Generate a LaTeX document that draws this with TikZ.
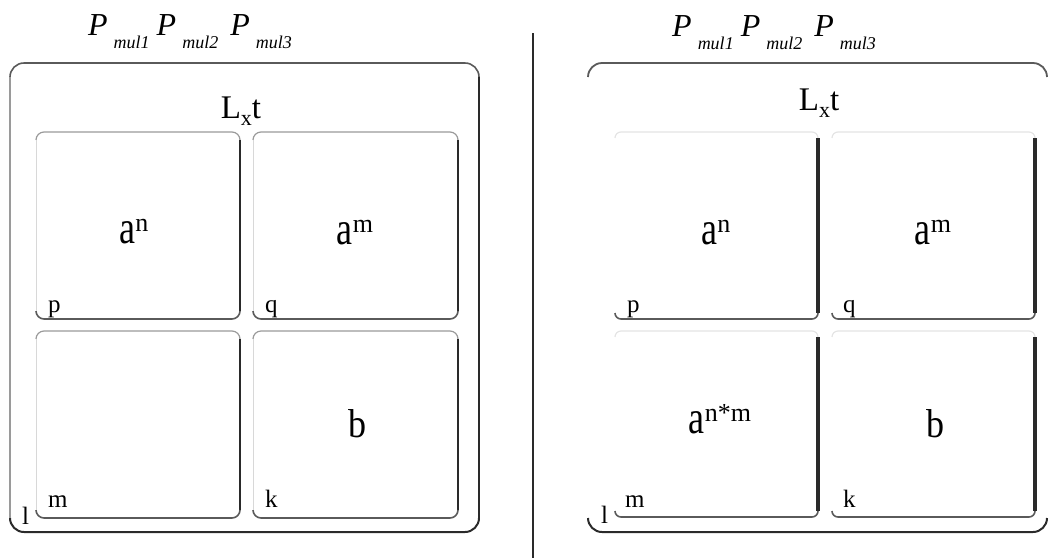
\documentclass[tikz,border=0pt]{standalone}
\usepackage{graphicx}
\usepackage{fontspec}
\setmainfont{Liberation Serif}
\definecolor{dk}{HTML}{2A2A2A}
\definecolor{md}{HTML}{5A5A5A}
\definecolor{lg}{HTML}{9A9A9A}
\definecolor{vlg}{HTML}{D8D8D8}
\definecolor{xlg}{HTML}{E4E4E4}
\newcommand{\myframe}[6]{%
  \draw[#6top,rounded corners=#5pt] (#1,#2+#5) -- (#1,#2) -- (#3,#2) -- (#3,#2+#5);
  \draw[#6right] (#3,#2+#5) -- (#3,#4-#5);
  \draw[#6bot,rounded corners=#5pt] (#3,#4-#5) -- (#3,#4) -- (#1,#4) -- (#1,#4-#5);
  \draw[#6left] (#1,#4-#5) -- (#1,#2+#5);
}
\newcommand{\pmul}[1]{\textit{P}\hspace{6pt}\raisebox{-13pt}{\fontsize{18}{18}\selectfont\textit{mul#1}}}
\newcommand{\lxt}{\fontsize{33}{33}\selectfont L\raisebox{-7pt}{\fontsize{22}{22}\selectfont x}t}
\newcommand{\apow}[1]{\fontsize{36}{36}\selectfont\scalebox{1}[1.3]{a}\raisebox{12pt}{\fontsize{26}{26}\selectfont #1}}
\newcommand{\bee}{\fontsize{36}{36}\selectfont\scalebox{1}[1.12]{b}}
\tikzset{
  lotop/.style={draw=md,line width=1.6pt},
  loright/.style={draw=dk,line width=2.4pt},
  lobot/.style={draw=dk,line width=2pt},
  loleft/.style={draw=lg,line width=1.4pt},
  litop/.style={draw=lg,line width=1.2pt},
  liright/.style={draw=dk,line width=2.6pt},
  libot/.style={draw=md,line width=1.6pt},
  lileft/.style={draw=vlg,line width=1pt},
  rotop/.style={draw=md,line width=1.8pt},
  roright/.style={draw=none},
  robot/.style={draw=dk,line width=2pt},
  roleft/.style={draw=none},
  ritop/.style={draw=xlg,line width=1.2pt},
  riright/.style={draw=dk,line width=3.4pt},
  ribot/.style={draw=md,line width=1.6pt},
  rileft/.style={draw=none},
  hdr/.style={anchor=base west,inner sep=0pt,font=\fontsize{32}{32}\selectfont},
  big/.style={anchor=base,inner sep=0pt},
  lbl/.style={anchor=base west,inner sep=0pt,font=\fontsize{25}{25}\selectfont},
}
\begin{document}
\begin{tikzpicture}[x=1pt,y=-1pt]
\useasboundingbox (0,0) rectangle (1050,558);
% left panel
\myframe{10}{63}{479}{532}{14}{lo}
\myframe{36}{132}{240}{319}{8}{li}
\myframe{253}{132}{458}{319}{8}{li}
\myframe{36}{331}{240}{518}{8}{li}
\myframe{253}{331}{458}{518}{8}{li}
% right panel
\myframe{588}{63}{1047}{532}{14}{ro}
\myframe{615}{132}{818}{319}{6}{ri}
\myframe{832}{132}{1035}{319}{6}{ri}
\myframe{615}{331}{818}{517}{6}{ri}
\myframe{832}{331}{1035}{517}{6}{ri}
% divider
\coordinate (dtop) at (533,33);
\coordinate (dbot) at (533,558);
\draw[draw=dk,line width=2pt] (dtop) -- (dbot);
% left texts
\node[hdr] (lh) at (88,35) {\pmul{1}\hspace{7pt}\pmul{2}\hspace{12pt}\pmul{3}};
\node[big] (llxt) at (241,118) {\lxt};
\node[big] (lan) at (134,243) {\apow{n}};
\node[big] (lam) at (355,244) {\apow{m}};
\node[big] (lb) at (357,437) {\bee};
\node[lbl] (lp) at (48,312) {p};
\node[lbl] (lq) at (265,312) {q};
\node[lbl] (lm) at (48,507) {m};
\node[lbl] (lk) at (265,507) {k};
\node[lbl] (ll) at (22,524) {l};
% right texts
\node[hdr] (rh) at (672,36) {\pmul{1}\hspace{7pt}\pmul{2}\hspace{12pt}\pmul{3}};
\node[big] (rlxt) at (819,110) {\lxt};
\node[big] (ran) at (716,244) {\apow{n}};
\node[big] (ram) at (933,244) {\apow{m}};
\node[big] (ranm) at (720,433) {\apow{n*m}};
\node[big] (rb) at (935,437) {\bee};
\node[lbl] (rp) at (627,312) {p};
\node[lbl] (rq) at (843,312) {q};
\node[lbl] (rm) at (625,507) {m};
\node[lbl] (rk) at (843,507) {k};
\node[lbl] (rl) at (601,523) {l};
\end{tikzpicture}
\end{document}
